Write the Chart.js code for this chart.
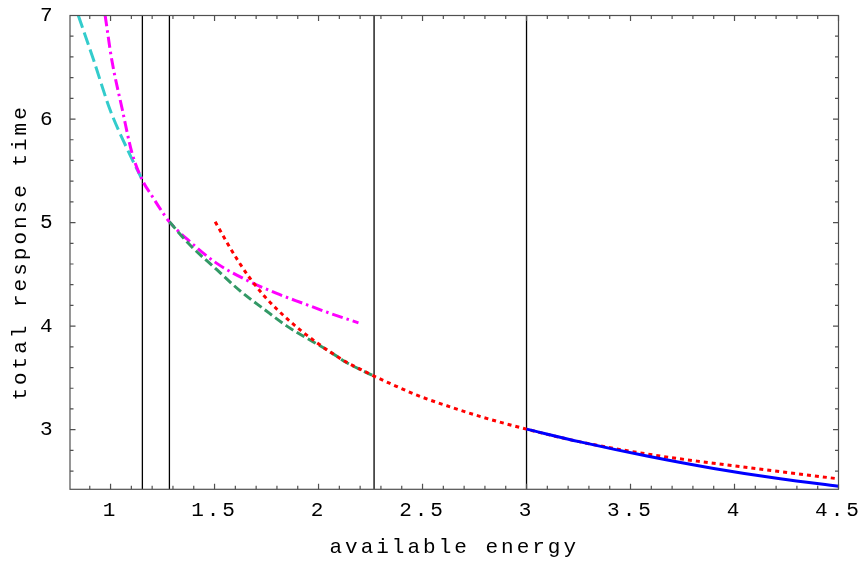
<!DOCTYPE html>
<html><head><meta charset="utf-8">
<script src="https://cdn.jsdelivr.net/npm/chart.js@4.4.0/dist/chart.umd.min.js"></script>
<style>html,body{margin:0;padding:0;background:#fff;} canvas{display:block;}</style>
</head><body>
<canvas id="c" width="867" height="563"></canvas>
<script>
// ---- data ----
const xTickValues = [1, 1.5, 2, 2.5, 3, 3.5, 4, 4.5];
const xTickLabels = ['1', '1.5', '2', '2.5', '3', '3.5', '4', '4.5'];
const yTickValues = [3, 4, 5, 6, 7];
const yTickLabels = ['3', '4', '5', '6', '7'];
const xMin = 0.805, xMax = 4.5, yMin = 2.424, yMax = 7;
const boundaryEnergies = [1.153, 1.283, 2.267, 3.0];

const cyanE = [0.845, 0.917, 0.998, 1.078, 1.153];
const cyanT = [7.0, 6.58, 6.087, 5.72, 5.41];

const magentaE = [0.974, 1.006, 1.057, 1.102, 1.153, 1.2, 1.238, 1.283, 1.382, 1.511, 1.655, 1.799, 1.927, 2.056, 2.192];
const magentaT = [7.0, 6.57, 6.087, 5.68, 5.41, 5.255, 5.135, 5.007, 4.815, 4.606, 4.444, 4.316, 4.219, 4.123, 4.032];

const greenE = [1.283, 1.382, 1.511, 1.623, 1.735, 1.848, 1.975, 2.04, 2.136, 2.267];
const greenT = [5.007, 4.783, 4.545, 4.34, 4.168, 4.0, 3.847, 3.772, 3.646, 3.517];

const redE = [1.503, 1.559, 1.615, 1.671, 1.735, 1.799, 1.855, 1.92, 1.992, 2.056, 2.136, 2.2, 2.267, 2.344, 2.473, 2.633, 2.793, 3.0, 3.258, 3.579, 3.9, 4.22, 4.5];
const redT = [5.007, 4.81, 4.625, 4.46, 4.30, 4.165, 4.06, 3.95, 3.84, 3.75, 3.65, 3.585, 3.517, 3.446, 3.333, 3.22, 3.118, 3.005, 2.882, 2.765, 2.675, 2.595, 2.525];

const blueE = [3.0, 3.258, 3.579, 3.9, 4.22, 4.5];
const blueT = [3.005, 2.882, 2.745, 2.625, 2.525, 2.454];

// ---- build ----
const pts = (xs, ys) => xs.map((x, i) => ({x: x, y: ys[i]}));
const FONT = {family: "'Liberation Mono', 'DejaVu Sans Mono', monospace", size: 21};
const SPACING = '3px';

function curve(label, xs, ys, color, dash, order, width) {
  return {
    label, data: pts(xs, ys), borderColor: color, borderWidth: width || 3,
    borderDash: dash, borderCapStyle: 'butt', pointRadius: 0, fill: false,
    cubicInterpolationMode: 'monotone', order
  };
}

const datasets = [
  curve('blue', blueE, blueT, '#0000ff', [], 1, 3),
  curve('red', redE, redT, '#ff0000', [4, 4], 2, 3),
  curve('green', greenE, greenT, '#339966', [9, 4], 3, 3),
  curve('magenta', magentaE, magentaT, '#ff00ff', [11, 4, 2.5, 4], 4, 3),
  curve('cyan', cyanE, cyanT, '#33cccc', [13, 5], 5, 3)
];
boundaryEnergies.forEach((e, i) => {
  datasets.push({
    label: 'boundary' + i,
    data: [{x: e, y: yMin}, {x: e, y: yMax}],
    borderColor: '#000', borderWidth: 1.3, pointRadius: 0, tension: 0,
    fill: false, order: 10
  });
});

const spacingPlugin = {
  id: 'spacing',
  beforeUpdate(chart) { chart.ctx.letterSpacing = SPACING; },
  beforeLayout(chart) { chart.ctx.letterSpacing = SPACING; },
  beforeDraw(chart) { chart.ctx.letterSpacing = SPACING; }
};

const framePlugin = {
  id: 'frame',
  afterDatasetsDraw(chart) {
    const {ctx, chartArea: a, scales: {x, y}} = chart;
    ctx.save();
    ctx.strokeStyle = '#505050';
    ctx.lineWidth = 1.2;
    ctx.beginPath();
    for (let k = 9; k <= 45; k++) {
      const px = x.getPixelForValue(k / 10);
      const len = (k % 5 === 0) ? 5.5 : 3.5;
      ctx.moveTo(px, a.bottom); ctx.lineTo(px, a.bottom - len);
      ctx.moveTo(px, a.top); ctx.lineTo(px, a.top + len);
    }
    for (let k = 13; k <= 35; k++) {
      const py = y.getPixelForValue(k / 5);
      const len = (k % 5 === 0) ? 5.5 : 3.5;
      ctx.moveTo(a.left, py); ctx.lineTo(a.left + len, py);
      ctx.moveTo(a.right, py); ctx.lineTo(a.right - len, py);
    }
    ctx.stroke();
    ctx.strokeRect(a.left, a.top, a.right - a.left, a.bottom - a.top);
    ctx.restore();
  }
};

function zeroPad(s) { s.paddingTop = 0; s.paddingBottom = 0; s.paddingLeft = 0; s.paddingRight = 0; }

new Chart(document.getElementById('c'), {
  type: 'line',
  data: {datasets},
  plugins: [spacingPlugin, framePlugin],
  options: {
    responsive: false,
    animation: false,
    events: [],
    layout: {padding: {top: 15.5, right: 28.5, left: 0, bottom: 0}},
    plugins: {legend: {display: false}, tooltip: {enabled: false}},
    scales: {
      x: {
        type: 'linear', min: xMin, max: xMax,
        afterBuildTicks: s => { s.ticks = xTickValues.map(v => ({value: v})); },
        afterFit: s => { s.height = 73.7; zeroPad(s); },
        grid: {display: false, drawTicks: false},
        border: {display: false},
        ticks: {
          font: FONT, color: '#000', padding: 9, maxRotation: 0, autoSkip: false,
          callback: (v) => { const i = xTickValues.indexOf(v); return i >= 0 ? xTickLabels[i] : ''; }
        },
        title: {display: true, text: 'available energy', font: FONT, color: '#000', padding: {top: 0, bottom: 3.4}}
      },
      y: {
        type: 'linear', min: yMin, max: yMax,
        afterBuildTicks: s => { s.ticks = yTickValues.map(v => ({value: v})); },
        afterFit: s => { s.width = 70; zeroPad(s); },
        grid: {display: false, drawTicks: false},
        border: {display: false},
        ticks: {
          font: FONT, color: '#000', padding: 14.5, autoSkip: false,
          callback: (v) => { const i = yTickValues.indexOf(v); return i >= 0 ? yTickLabels[i] : ''; }
        },
        title: {display: true, text: 'total response time', font: FONT, color: '#000', padding: {top: 7.5, bottom: 0}}
      }
    }
  }
});
</script>
</body></html>
